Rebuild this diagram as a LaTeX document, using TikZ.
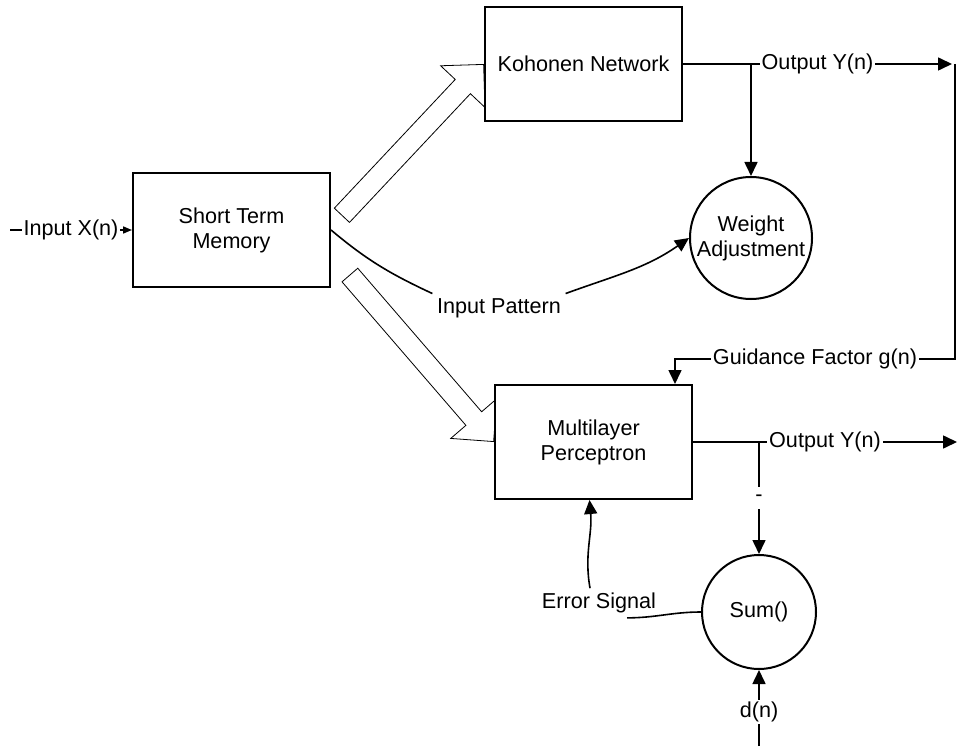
\documentclass[tikz,border=0pt]{standalone}
\usepackage{fontspec}
\setmainfont{Liberation Sans}
\usetikzlibrary{arrows.meta, shapes.arrows, calc, backgrounds}
\tikzset{
  every picture/.style={line width=0.8pt, x=0.5pt, y=-0.5pt},
  box/.style={draw, fill=white, line width=1pt, minimum width=98.5pt, minimum height=57pt, align=center},
  disc/.style={draw, circle, fill=white, line width=1pt, inner sep=0pt, align=center, minimum size=#1},
  arrow/.style={-{Triangle[length=7pt, width=6.5pt]}},
  smallarrow/.style={-{Triangle[length=4.5pt, width=3.5pt]}},
  lab/.style={fill=white, inner sep=1pt},
  hollow/.style={single arrow, draw, fill=white, inner xsep=0pt, inner ysep=5pt, single arrow head extend=10pt, single arrow tip angle=90},
}

\begin{document}
\begin{tikzpicture}[every node/.append style={font=\fontsize{10.8}{12.5}\selectfont}]
  \useasboundingbox (0,0) rectangle (958,754);
  % ---------- blocks ----------
  \node[box] (stm) at (231.5, 230) {Short Term\\Memory};
  \node[box] (kn) at (583.5, 64) {Kohonen Network};
  \node[box] (mlp) at (593.5, 442) {Multilayer\\Perceptron};
  \node[disc=61pt] (wa) at (751, 238) {Weight\\Adjustment};
  \node[disc=57pt] (sum) at (759, 612) {Sum()};
  \node[inner sep=2pt] (ip) at (499, 308) {Input Pattern};
  \node[inner sep=2pt] (es) at (599, 603) {Error Signal};
  % free ends
  \coordinate (xin) at (10, 230);
  \coordinate (yk) at (952, 64);
  \coordinate (gtop) at (955, 64);
  \coordinate (gleft) at (675, 359);
  \coordinate (ym) at (957, 442);
  \coordinate (dsrc) at (759, 746);
  % ---------- hollow arrows ----------
  \begin{scope}[on background layer]
    \node[hollow, minimum height=103.5pt, rotate=46.8, anchor=tip] (hk) at (kn.west) {};
    \node[hollow, minimum height=110pt, rotate=-49.2, anchor=tip] (hm) at (mlp.west) {};
  \end{scope}
  % ---------- signals ----------
  \draw[smallarrow] (xin) -- node[lab] (inx) {Input X(n)} (stm.west);
  \draw[arrow] (kn.east) -- node[lab] (outk) {Output Y(n)} (yk);
  \draw[arrow] (kn.east -| wa.north) -- (wa.north);
  \draw[arrow] (gtop) |- node[lab, pos=0.75] (guide) {Guidance Factor g(n)} (gleft) -- (gleft |- mlp.north);
  \draw[arrow] (mlp.east) -- node[lab] (outm) {Output Y(n)} (mlp.east -| ym);
  \draw[arrow] (mlp.east -| sum.north) -- node[lab, inner ysep=4pt] (neg) {-} (sum.north);
  \draw[arrow] (dsrc) -- node[lab, pos=0.45] (dn) {d(n)} (sum.south);
  % ---------- feedback curves ----------
  \draw (stm.east) to[out=-40, in=155] (ip.north west);
  \draw[arrow] (ip.north east) to[out=20, in=-145] (wa.west);
  \draw (sum.west) to[out=180, in=0] ([xshift=14pt]es.south);
  \draw[arrow] ([xshift=-4.5pt]es.north) to[out=100, in=-85] ([xshift=-2pt]mlp.south);
\end{tikzpicture}
\end{document}
